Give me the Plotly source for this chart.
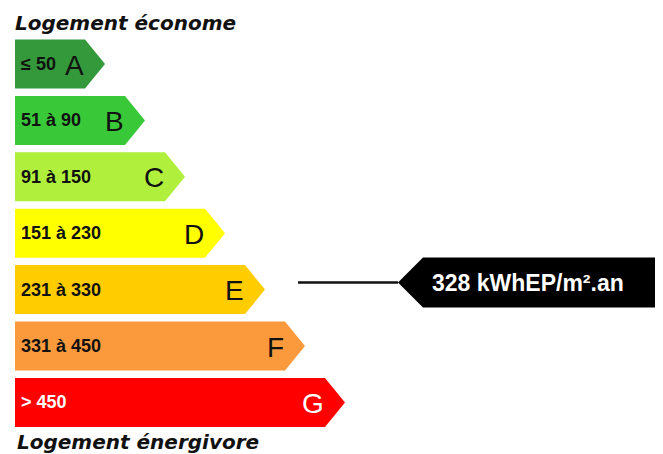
import plotly.graph_objects as go

# ---- data ----
classes = ["A", "B", "C", "D", "E", "F", "G"]
ranges = ["≤ 50", "51 à 90", "91 à 150", "151 à 230", "231 à 330", "331 à 450", "> 450"]
upper_bounds = [50, 90, 150, 230, 330, 450, float("inf")]
value = 328
unit = "kWhEP/m².an"
top_title = "Logement économe"
bottom_title = "Logement énergivore"

# ---- styles ----
fill_colors = ["#33993a", "#38c838", "#b0f03c", "#ffff00", "#ffcc00", "#fb9a3c", "#ff0000"]
text_colors = ["#111111"] * 6 + ["#ffffff"]

W, H = 663, 454
PAGE_OFF = 8     # default body margin of the page
X0 = 15          # left edge of bars
RECT0 = 85       # end of rectangle part of first bar
STEP_X = 40      # extra length per class
TIP = 20         # arrow depth
Y0 = 64          # centre of first bar
STEP_Y = 56.4    # row spacing
BAR_H = 49

fig = go.Figure()
ann = []

for i, (c, r) in enumerate(zip(classes, ranges)):
    yc = Y0 + STEP_Y * i
    rect_end = RECT0 + STEP_X * i
    tip = rect_end + TIP
    xs = [X0, rect_end, tip, rect_end, X0, X0]
    ys = [yc - BAR_H / 2, yc - BAR_H / 2, yc, yc + BAR_H / 2, yc + BAR_H / 2, yc - BAR_H / 2]
    fig.add_trace(go.Scatter(x=xs, y=ys, mode="lines", fill="toself",
                             fillcolor=fill_colors[i], line=dict(width=0),
                             hoverinfo="skip", showlegend=False))
    ann.append(dict(x=19, y=yc, text="<b>" + r + "</b>", xanchor="left", yanchor="middle",
                    showarrow=False, font=dict(family="Liberation Sans, Arial", size=18,
                                               color=text_colors[i])))
    ann.append(dict(x=rect_end + 1, y=yc + 1, text=c, xanchor="right", yanchor="middle",
                    showarrow=False, font=dict(family="Liberation Sans, Arial", size=28,
                                               color=text_colors[i])))

# marker for the value
idx = next(i for i, ub in enumerate(upper_bounds) if value <= ub)
ym = Y0 + STEP_Y * idx - 7
LINE_X0, LINE_X1 = 298, 398
BOX_X0, BOX_X1 = 423, 680
BOX_HALF = 25
fig.add_trace(go.Scatter(x=[LINE_X0, LINE_X1], y=[ym, ym], mode="lines",
                         line=dict(color="#111111", width=2.5),
                         hoverinfo="skip", showlegend=False))
fig.add_trace(go.Scatter(x=[LINE_X1, BOX_X0, BOX_X1, BOX_X1, BOX_X0, LINE_X1],
                         y=[ym, ym - BOX_HALF, ym - BOX_HALF, ym + BOX_HALF, ym + BOX_HALF, ym],
                         mode="lines", fill="toself", fillcolor="#000000",
                         line=dict(width=0), hoverinfo="skip", showlegend=False))
ann.append(dict(x=430, y=ym, text="<b>%d %s</b>" % (value, unit), xanchor="left",
                yanchor="middle", showarrow=False,
                font=dict(family="Liberation Sans, Arial", size=23, color="#ffffff")))

# titles
ann.append(dict(x=13, y=23, text="<b><i>" + top_title + "</i></b>", xanchor="left",
                yanchor="middle", showarrow=False,
                font=dict(family="DejaVu Sans", size=20, color="#111111")))
ann.append(dict(x=15, y=442, text="<b><i>" + bottom_title + "</i></b>", xanchor="left",
                yanchor="middle", showarrow=False,
                font=dict(family="DejaVu Sans", size=20, color="#111111")))

fig.update_layout(
    width=W - PAGE_OFF, height=H - PAGE_OFF, margin=dict(l=0, r=0, t=0, b=0),
    paper_bgcolor="white", plot_bgcolor="white",
    xaxis=dict(range=[PAGE_OFF, W], visible=False, fixedrange=True),
    yaxis=dict(range=[H, PAGE_OFF], visible=False, fixedrange=True),
    annotations=ann,
)

fig.write_html("out.html", config={"displayModeBar": False})
